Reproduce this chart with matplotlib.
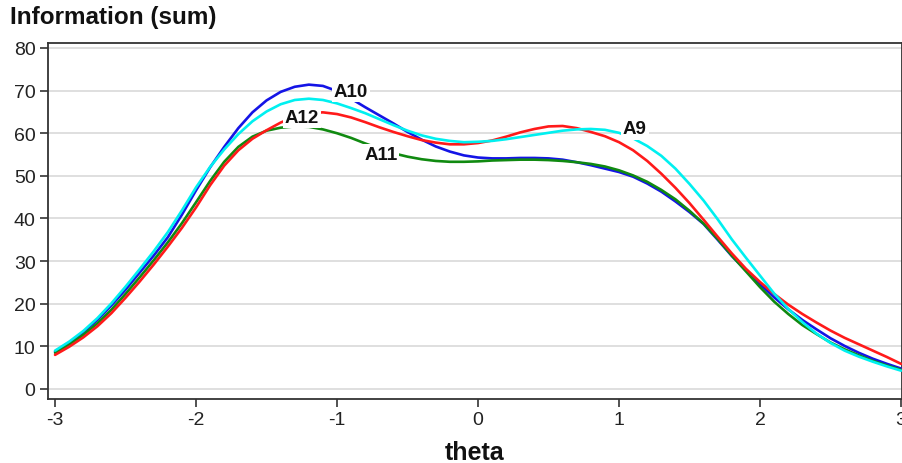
import numpy as np
import matplotlib
matplotlib.use("Agg")
import matplotlib.pyplot as plt

plt.rcParams['font.family'] = ['Liberation Sans', 'DejaVu Sans']
plt.rcParams['axes.unicode_minus'] = False

theta = np.round(np.arange(-3.0, 3.0001, 0.1), 1)

a10 = [8.8, 10.9, 13.3, 16.2, 19.6, 23.3, 27.3, 31.3, 35.6, 40.9,
       46.6, 52.0, 56.8, 61.2, 64.9, 67.7, 69.7, 70.9, 71.4, 71.1,
       69.9, 68.1, 66.1, 64.2, 62.3, 60.3, 58.5, 56.9, 55.7, 54.8,
       54.3, 54.1, 54.1, 54.2, 54.2, 54.1, 53.8, 53.2, 52.5, 51.7,
       50.9, 49.8, 48.2, 46.3, 44.0, 41.5, 38.7, 35.0, 31.2, 27.8,
       24.6, 21.5, 18.7, 16.2, 14.0, 11.9, 10.1, 8.5, 7.1, 5.9, 4.8]

a9 = [9.0, 11.1, 13.6, 16.6, 20.1, 24.0, 28.1, 32.3, 36.8, 41.9,
       47.3, 52.1, 56.2, 59.8, 62.8, 65.1, 66.8, 67.8, 68.1, 67.8,
       67.0, 65.9, 64.7, 63.3, 61.9, 60.6, 59.5, 58.7, 58.2, 57.9,
       58.0, 58.2, 58.6, 59.1, 59.6, 60.1, 60.6, 60.9, 61.0, 60.8,
       60.1, 58.8, 57.0, 54.7, 51.7, 48.1, 44.2, 39.8, 35.1, 30.8,
       26.6, 22.4, 18.8, 15.7, 13.0, 10.8, 9.0, 7.6, 6.4, 5.3, 4.3]

a12 = [8.0, 9.9, 12.1, 14.7, 17.8, 21.4, 25.2, 29.2, 33.4, 37.8,
       42.6, 47.8, 52.4, 56.0, 58.7, 60.7, 62.5, 63.9, 64.7, 64.9,
       64.5, 63.7, 62.6, 61.4, 60.3, 59.3, 58.4, 57.8, 57.4, 57.4,
       57.7, 58.3, 59.2, 60.2, 61.0, 61.6, 61.7, 61.2, 60.3, 59.3,
       57.9, 56.0, 53.5, 50.5, 47.2, 43.6, 39.7, 35.7, 31.8, 28.2,
       25.1, 22.3, 19.8, 17.6, 15.6, 13.7, 12.0, 10.5, 9.0, 7.5, 5.9]

a11 = [8.5, 10.4, 12.7, 15.4, 18.6, 22.3, 26.2, 30.2, 34.4, 38.9,
       43.8, 48.8, 53.3, 56.8, 59.2, 60.6, 61.3, 61.6, 61.5, 60.9,
       60.0, 58.9, 57.6, 56.4, 55.3, 54.5, 53.9, 53.5, 53.3, 53.3,
       53.4, 53.6, 53.7, 53.8, 53.8, 53.7, 53.5, 53.2, 52.8, 52.2,
       51.3, 50.1, 48.6, 46.7, 44.5, 41.8, 38.8, 35.2, 31.3, 27.6,
       23.9, 20.5, 17.6, 15.0, 12.9, 10.9, 9.3, 7.9, 6.6, 5.5, 4.5]

series_names = ['A10', 'A11', 'A12', 'A9']
series_values = [a10, a11, a12, a9]
series_colors = ['#1414e6', '#108a10', '#ff1a1a', '#00f0f0']
label_pos = {'A10': (-0.9, 69.9), 'A11': (-0.69, 55.0), 'A12': (-1.25, 63.8), 'A9': (1.11, 61.0)}

y_ticks = [0, 10, 20, 30, 40, 50, 60, 70, 80]
x_ticks = [-3, -2, -1, 0, 1, 2, 3]

fig = plt.figure(figsize=(9.02, 4.64), dpi=100)
ax = fig.add_axes([48/902, 1-400/464, 1-48/902, (400-44)/464])

for name, vals, col in zip(series_names, series_values, series_colors):
    ax.plot(theta, vals, color=col, lw=1.9, zorder=3, solid_capstyle='round',
            solid_joinstyle='round')

for name in series_names:
    x, y = label_pos[name]
    ax.text(x, y, name, fontsize=13.5, fontweight='bold', color='#111111',
            ha='center', va='center', zorder=5,
            bbox=dict(facecolor='white', edgecolor='none', pad=1.5))

ax.set_xlim(-3.05, 3.007)
ax.set_ylim(-2.35, 81.17)
ax.set_yticks(y_ticks)
ax.set_xticks(x_ticks)
ax.set_xticklabels([str(v) for v in x_ticks])
ax.grid(axis='y', color='#d9d9d9', lw=1.2, zorder=0)
ax.set_axisbelow(True)
for s in ['left', 'bottom', 'top', 'right']:
    ax.spines[s].set_color('#333333')
    ax.spines[s].set_linewidth(1.3)
ax.tick_params(axis='both', direction='out', length=6, width=1.2, color='#333333',
               labelsize=14, labelcolor='#222222', pad=3)
ax.set_xlabel('theta', fontsize=18, fontweight='bold', color='#111111', labelpad=8)

fig.text(10/902, 1-6/464, 'Information (sum)', fontsize=17.5, fontweight='bold',
         color='#111111', ha='left', va='top')

fig.savefig('out.png', dpi=100)
